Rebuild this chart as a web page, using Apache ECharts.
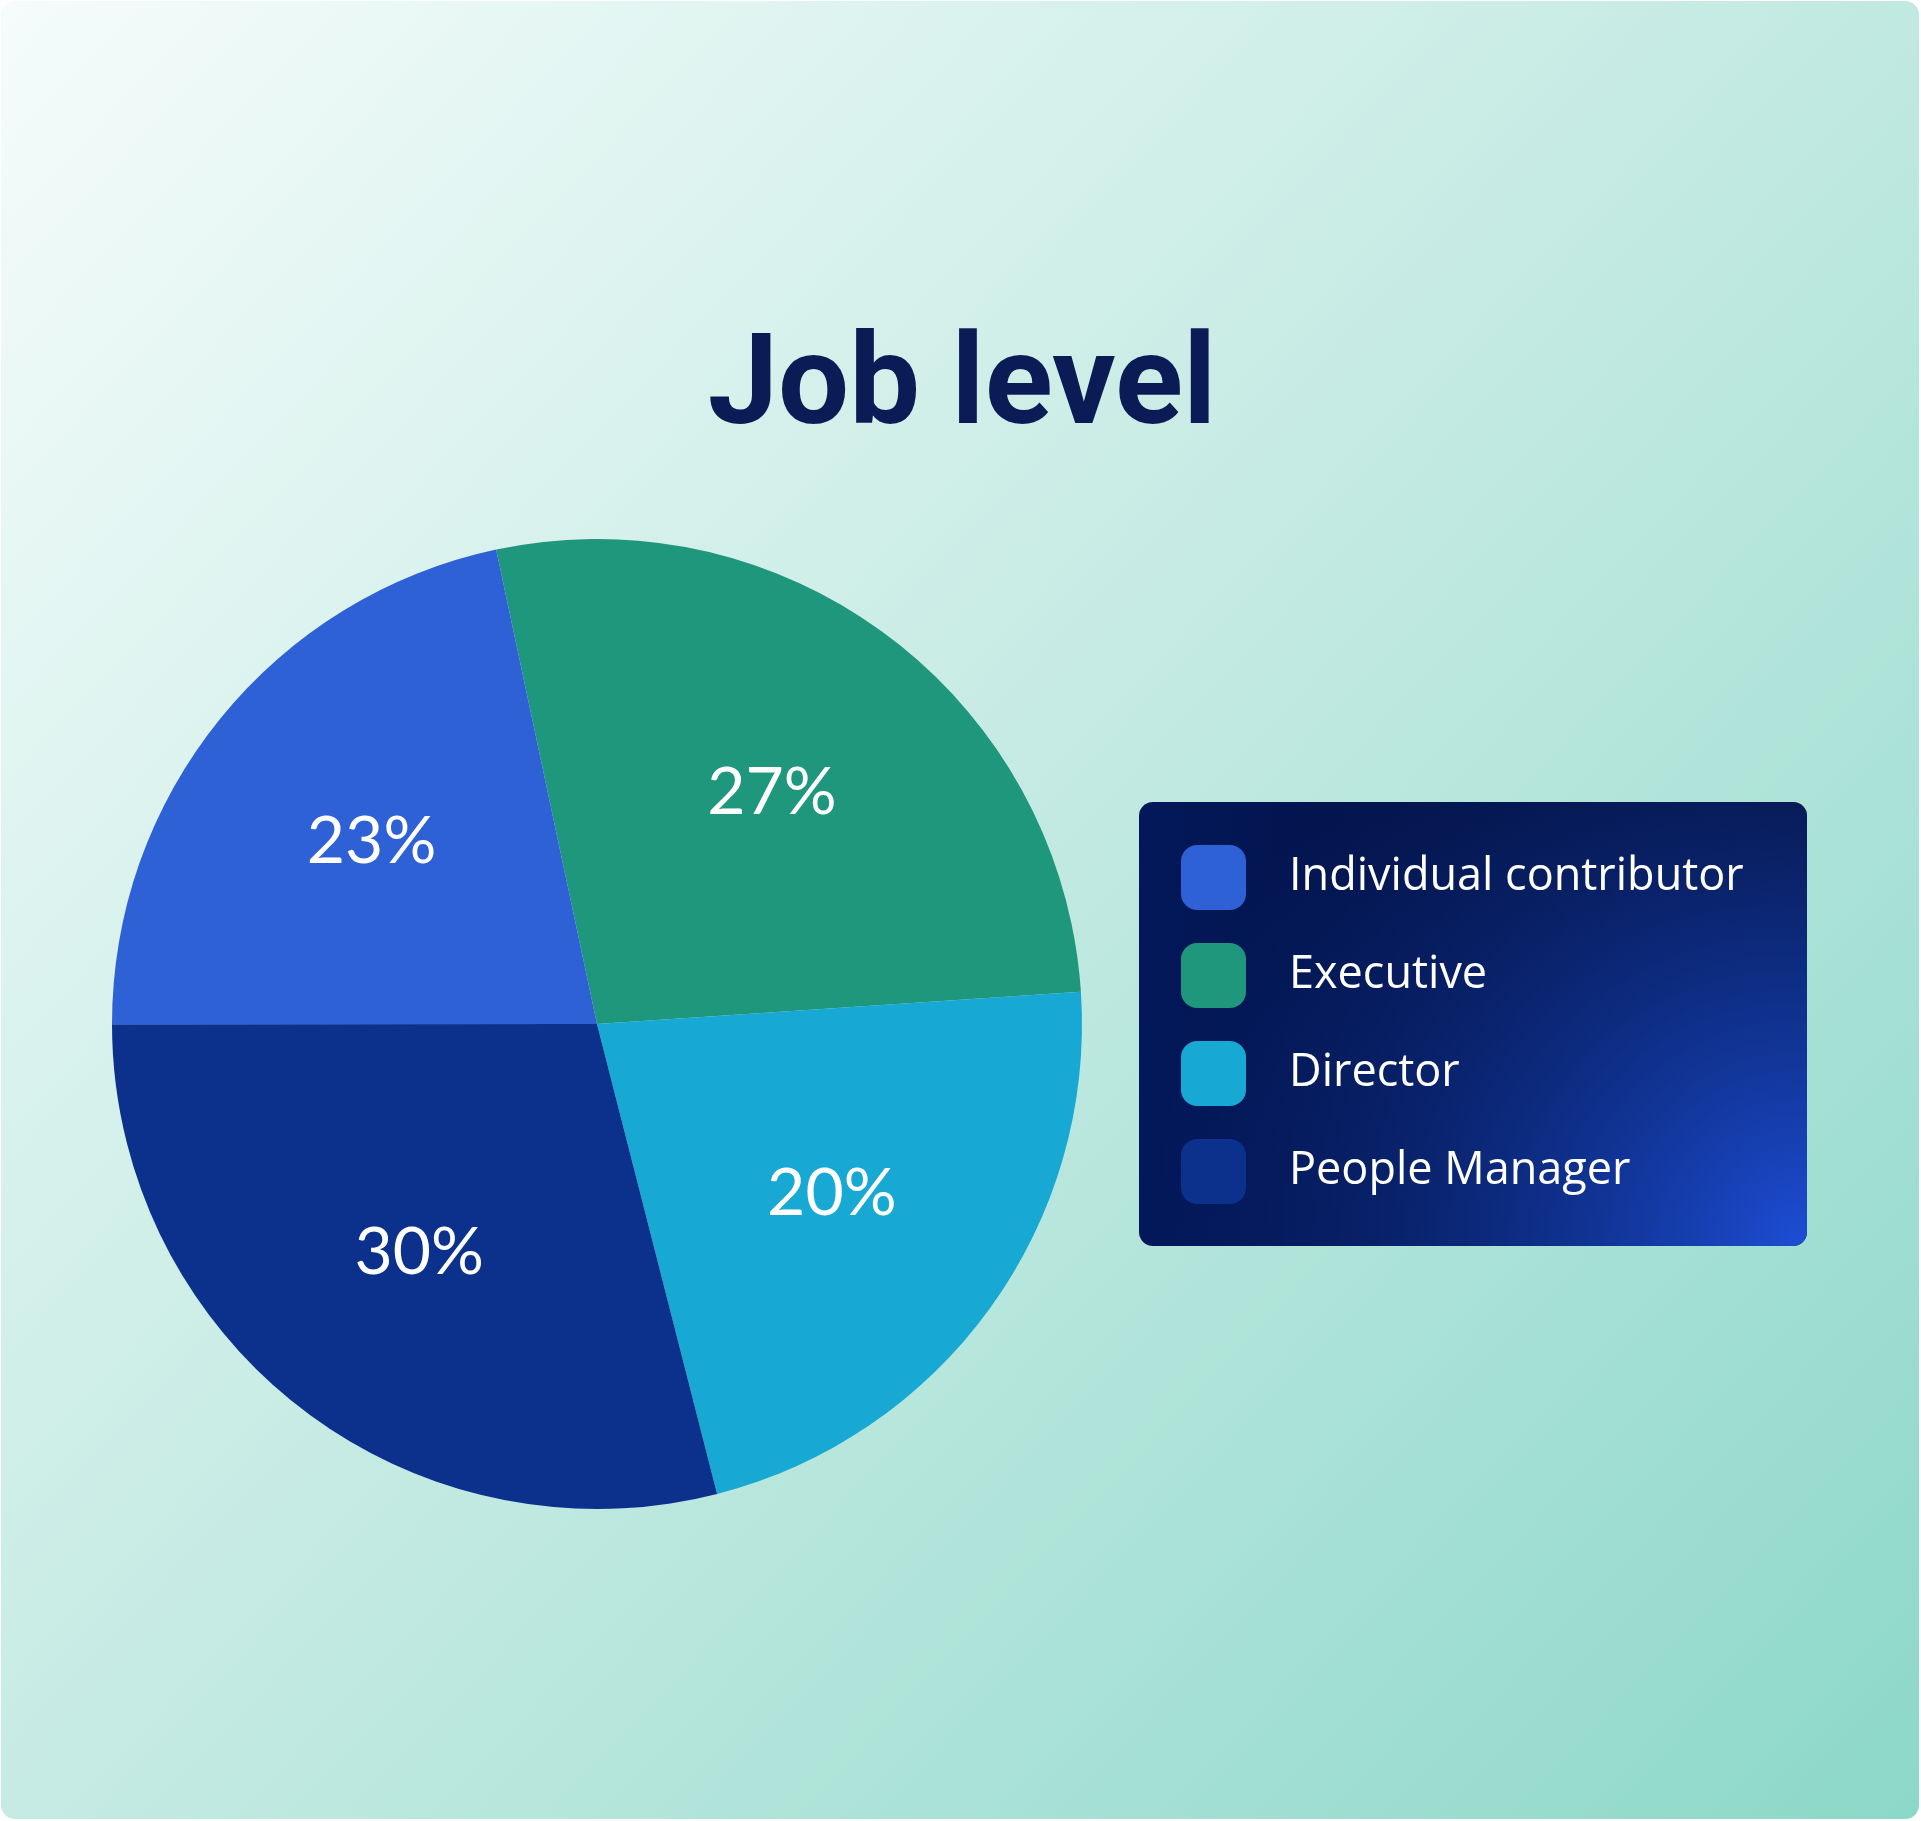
<!DOCTYPE html>
<html>
<head>
<meta charset="utf-8">
<script src="https://cdn.jsdelivr.net/npm/echarts@6/dist/echarts.min.js"></script>
<style>
html,body{margin:0;padding:0;background:#ffffff;}
#chart{width:1921px;height:1821px;}
</style>
</head>
<body>
<div id="chart"></div>
<script>
// Slice order as drawn clockwise, starting at the Executive slice
const categories = ['Executive', 'Director', 'People Manager', 'Individual contributor'];
// slice sizes (percent of the circle)
const sliceShare = [27.3, 22.1, 29.0, 21.7];
// percentage labels printed on the slices
const printedPct = ['27%', '20%', '30%', '23%'];
const sliceColors = ['#1f977d', '#17a8d4', '#0c318c', '#2e60d6'];
const legendOrder = ['Individual contributor', 'Executive', 'Director', 'People Manager'];
const titleText = 'Job level';

const chart = echarts.init(document.getElementById('chart'), null, {renderer: 'canvas'});

const pieData = categories.map((name, i) => ({
  name: name,
  value: sliceShare[i],
  itemStyle: {color: sliceColors[i]}
}));
const labelData = categories.map((name, i) => ({
  name: name,
  value: sliceShare[i],
  label: {formatter: printedPct[i]}
}));

const R = 485;
const option = {
  backgroundColor: '#ffffff',
  animation: false,
  graphic: [
    {
      type: 'rect', z: -10, silent: true,
      shape: {x: 1, y: 1, width: 1918, height: 1818, r: 14},
      style: {
        fill: new echarts.graphic.LinearGradient(0, 0, 1, 1, [
          {offset: 0, color: '#f5fcfb'},
          {offset: 0.5, color: '#c3eae2'},
          {offset: 1, color: '#8cd8c8'}
        ])
      }
    },
    {
      type: 'rect', z: -5, silent: true,
      shape: {x: 1139, y: 802, width: 668, height: 444, r: 14},
      style: {
        fill: new echarts.graphic.LinearGradient(0, 0, 1, 0, [
          {offset: 0, color: '#03185a'},
          {offset: 1, color: '#020c30'}
        ])
      }
    },
    {
      type: 'rect', z: -4, silent: true,
      shape: {x: 1139, y: 802, width: 668, height: 444, r: 14},
      style: {
        fill: new echarts.graphic.RadialGradient(1807, 1246, 660, [
          {offset: 0, color: 'rgba(29,78,214,1)'},
          {offset: 0.45, color: 'rgba(16,52,150,0.75)'},
          {offset: 1, color: 'rgba(12,40,120,0)'}
        ], true)
      }
    }
  ],
  title: {
    text: titleText,
    left: 957,
    top: 323,
    textAlign: 'center',
    textStyle: {
      fontFamily: 'Roboto',
      fontWeight: 'bold',
      fontSize: 126,
      color: '#0b1b55'
    }
  },
  legend: {
    data: legendOrder,
    orient: 'vertical',
    left: 1181,
    top: 845,
    padding: 0,
    itemWidth: 65,
    itemHeight: 65,
    itemGap: 33,
    icon: 'roundRect',
    z: 10,
    selectedMode: false,
    textStyle: {
      color: '#ffffff',
      fontFamily: 'Open Sans',
      fontSize: 45,
      padding: [0, 0, 0, 38]
    }
  },
  series: [
    {
      type: 'pie',
      center: [597, 1024],
      radius: [0, R],
      startAngle: 102,
      clockwise: true,
      silent: true,
      label: {show: false},
      labelLine: {show: false},
      itemStyle: {borderWidth: 0},
      data: pieData
    },
    {
      type: 'pie',
      center: [597, 1024],
      radius: [89, R],
      startAngle: 102,
      clockwise: true,
      silent: true,
      z: 5,
      itemStyle: {color: 'rgba(0,0,0,0)', borderWidth: 0},
      label: {
        show: true,
        position: 'inside',
        color: '#ffffff',
        fontFamily: 'Lato',
        fontSize: 66,
        fontWeight: 'normal'
      },
      labelLine: {show: false},
      data: labelData
    }
  ]
};
chart.setOption(option);
</script>
</body>
</html>
